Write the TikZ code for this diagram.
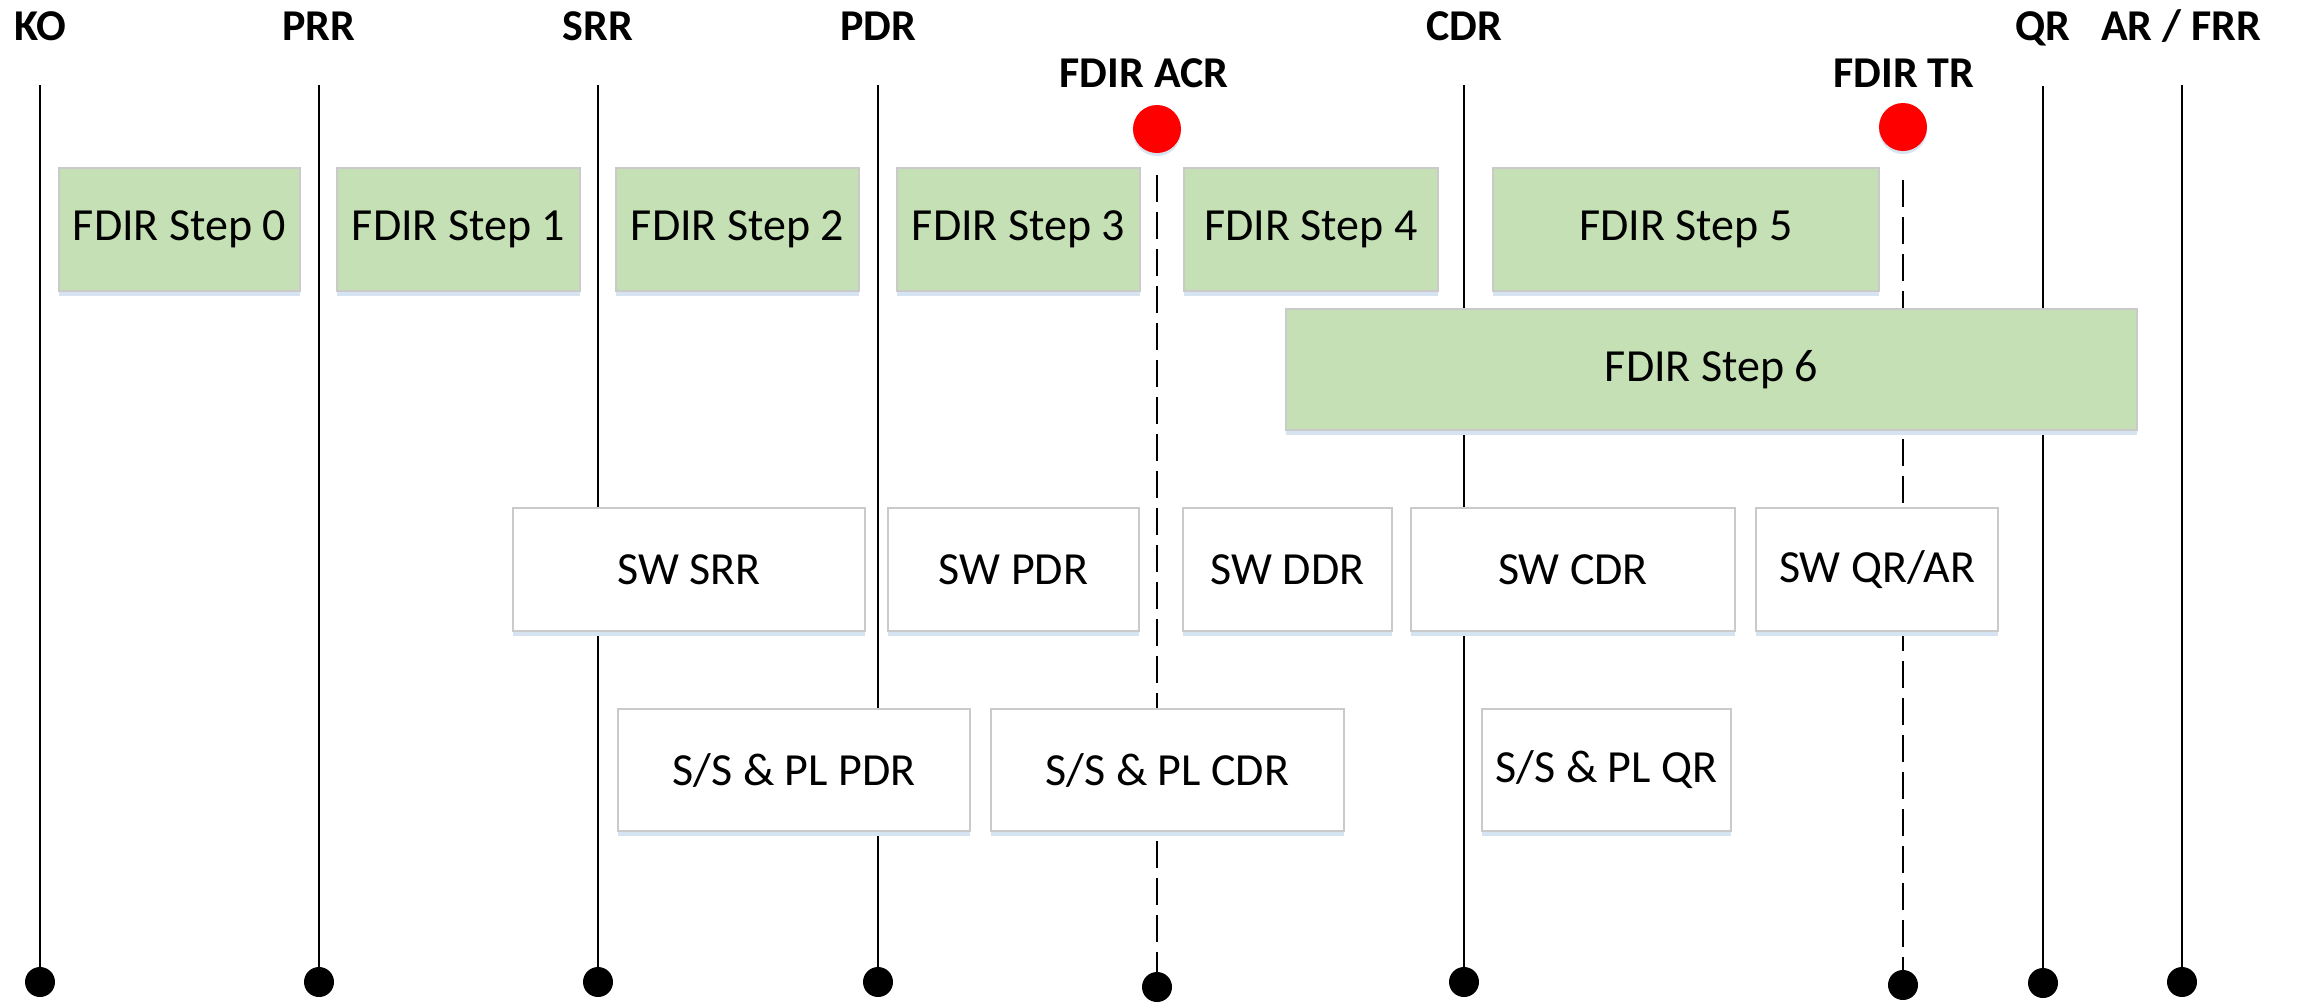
\documentclass[tikz,border=0pt]{standalone}
\usepackage{fontspec}
\setmainfont{Carlito}
\usetikzlibrary{shadows}
\definecolor{stepgreen}{HTML}{C5E0B4}
\definecolor{boxedge}{HTML}{CACACA}
\definecolor{shadowcol}{HTML}{D6E3F1}
\begin{document}
\begin{tikzpicture}[x=0.5pt,y=-0.5pt,
  ms/.style={font=\bfseries\fontsize{22}{26}\selectfont, anchor=base, inner sep=0pt},
  boxshadow/.style={drop shadow={shadow xshift=0pt, shadow yshift=-2.5pt, opacity=1, fill=shadowcol, draw=none}},
  gbox/.style={fill=stepgreen, draw=boxedge, line width=0.6pt, inner sep=0pt, font=\fontsize{23}{27}\selectfont, boxshadow},
  wbox/.style={fill=white, draw=boxedge, line width=0.6pt, inner sep=0pt, font=\fontsize{23}{27}\selectfont, boxshadow},
  bdot/.style={circle, fill=black, minimum size=15pt, inner sep=0pt},
  rdot/.style={circle, fill=red, minimum size=24pt, inner sep=0pt, drop shadow={shadow xshift=0pt, shadow yshift=-1.5pt, opacity=1, fill=shadowcol}},
  mline/.style={line width=1.2pt},
  dline/.style={line width=1.2pt, dash pattern=on 13.5pt off 5pt}]

\useasboundingbox[fill=white] (0,0) rectangle (2303,1002);

% milestone labels
\node[ms] (lKO)  at (40,40)   {KO};
\node[ms] (lPRR) at (319,40)  {PRR};
\node[ms] (lSRR) at (598,40)  {SRR};
\node[ms] (lPDR) at (878,40)  {PDR};
\node[ms] (lCDR) at (1464,40) {CDR};
\node[ms] (lQR)  at (2043,40) {QR};
\node[ms] (lAR)  at (2181,40) {AR / FRR};
\node[ms] (lACR) at (1144,87) {FDIR ACR};
\node[ms] (lTR)  at (1904,87) {FDIR TR};

% line tops
\coordinate (tKO)  at (40,85);
\coordinate (tPRR) at (319,85);
\coordinate (tSRR) at (598,85);
\coordinate (tPDR) at (878,85);
\coordinate (tCDR) at (1464,85);
\coordinate (tQR)  at (2043,86);
\coordinate (tAR)  at (2182,85);
\coordinate (tACR) at (1157,175);
\coordinate (tTR)  at (1903,180);

% red dots
\node[rdot] (rACR) at (1157,129) {};
\node[rdot] (rTR)  at (1903,127) {};

% bottom dots
\node[bdot] (dKO)  at (40,982)   {};
\node[bdot] (dPRR) at (319,982)  {};
\node[bdot] (dSRR) at (598,982)  {};
\node[bdot] (dPDR) at (878,982)  {};
\node[bdot] (dACR) at (1157,987) {};
\node[bdot] (dCDR) at (1464,982) {};
\node[bdot] (dTR)  at (1903,985) {};
\node[bdot] (dQR)  at (2043,983) {};
\node[bdot] (dAR)  at (2182,982) {};

% lines
\draw[mline] (tKO) -- (dKO);
\draw[mline] (tPRR) -- (dPRR);
\draw[mline] (tSRR) -- (dSRR);
\draw[mline] (tPDR) -- (dPDR);
\draw[mline] (tCDR) -- (dCDR);
\draw[mline] (tQR) -- (dQR);
\draw[mline] (tAR) -- (dAR);
\draw[dline] (tACR) -- (dACR);
\draw[dline] (tTR) -- (dTR);

% FDIR steps
\node[gbox, minimum width=120.5pt, minimum height=61.5pt] (s0) at (179.5,229.5) {FDIR Step 0};
\node[gbox, minimum width=121.5pt, minimum height=61.5pt] (s1) at (458.5,229.5) {FDIR Step 1};
\node[gbox, minimum width=121.5pt, minimum height=61.5pt] (s2) at (737.5,229.5) {FDIR Step 2};
\node[gbox, minimum width=121.5pt, minimum height=61.5pt] (s3) at (1018.5,229.5) {FDIR Step 3};
\node[gbox, minimum width=127pt, minimum height=61.5pt] (s4) at (1311,229.5) {FDIR Step 4};
\node[gbox, minimum width=193pt, minimum height=61.5pt] (s5) at (1686,229.5) {FDIR Step 5};
\node[gbox, minimum width=425.5pt, minimum height=60.5pt] (s6) at (1711.5,369.5) {FDIR Step 6};

% SW reviews
\node[wbox, minimum width=176pt, minimum height=61.5pt] (swsrr) at (689,569.5) {SW SRR};
\node[wbox, minimum width=125.5pt, minimum height=61.5pt] (swpdr) at (1013.5,569.5) {SW PDR};
\node[wbox, minimum width=104.5pt, minimum height=61.5pt] (swddr) at (1287.5,569.5) {SW DDR};
\node[wbox, minimum width=162pt, minimum height=61.5pt] (swcdr) at (1573,569.5) {SW CDR};
\node[wbox, minimum width=121pt, minimum height=61.5pt] (swqr) at (1877,569.5) {SW QR/AR};

% S/S & PL reviews
\node[wbox, minimum width=176pt, minimum height=61pt] (sspdr) at (794,770) {S/S \& PL PDR};
\node[wbox, minimum width=176.5pt, minimum height=61pt] (sscdr) at (1167.5,770) {S/S \& PL CDR};
\node[wbox, minimum width=124.5pt, minimum height=61pt] (ssqr) at (1606.5,770) {S/S \& PL QR};
\end{tikzpicture}
\end{document}
